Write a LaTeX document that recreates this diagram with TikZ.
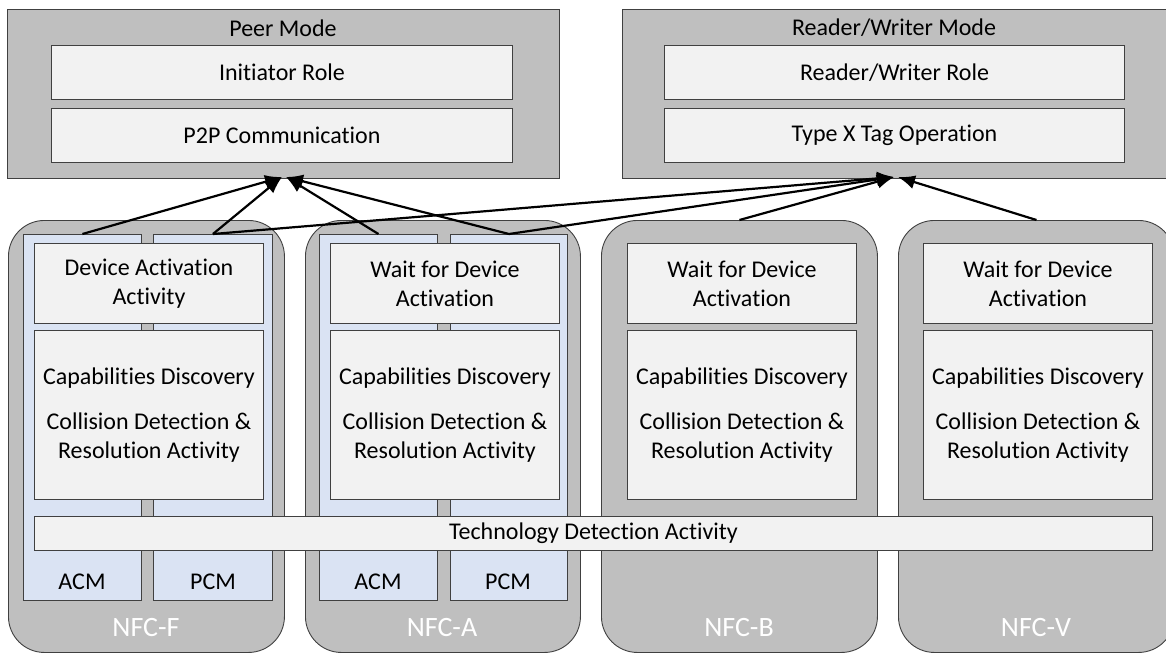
\documentclass[tikz,border=0pt]{standalone}
\usepackage{fontspec}
\setmainfont{Carlito}[Ligatures=NoCommon]
\usetikzlibrary{arrows.meta}
\definecolor{outergray}{HTML}{BFBFBF}
\definecolor{innerfill}{HTML}{F2F2F2}
\definecolor{bluefill}{HTML}{DAE3F3}
\definecolor{edgegray}{HTML}{404040}
\begin{document}
\begin{tikzpicture}[x=1pt,y=-1pt,
  modebox/.style={draw=edgegray, fill=outergray, line width=0.9pt, inner sep=0pt, anchor=north west},
  column/.style={modebox, rounded corners=36pt},
  cmbox/.style={draw=edgegray, fill=bluefill, line width=0.9pt, inner sep=0pt, anchor=north west},
  actbox/.style={draw=edgegray, fill=innerfill, line width=0.9pt, inner sep=0pt, anchor=north west, align=center, font=\fontsize{24}{29}\selectfont},
  lbl/.style={font=\fontsize{24}{29}\selectfont, inner sep=0pt},
  nfclbl/.style={font=\fontsize{28}{30}\selectfont, text=white, inner sep=0pt},
  arr/.style={line width=2.2pt, -{Latex[length=17pt,width=14pt]}}
]
\useasboundingbox (0,0) rectangle (1166,654);
\clip (0,0) rectangle (1166,654);

% Mode boxes
\node[modebox, minimum width=552, minimum height=169] (peer) at (7,9) {};
\node[lbl] (peertitle) at (283,28) {Peer Mode};
\node[actbox, minimum width=461, minimum height=54] (init) at (51,45) {Initiator Role};
\node[actbox, minimum width=461, minimum height=54] (p2p) at (51,108) {P2P Communication};

\node[modebox, minimum width=548, minimum height=169] (rw) at (622,9) {};
\node[lbl] (rwtitle) at (894,28) {Reader/Writer Mode};
\node[actbox, minimum width=460, minimum height=54] (rwrole) at (664,45) {Reader/Writer Role};
\node[actbox, minimum width=460, minimum height=54] (tagop) at (664,108) {Type X Tag Operation};

% Columns
\node[column, minimum width=276, minimum height=432] (nfcF) at (8,220) {};
\node[column, minimum width=275, minimum height=432] (nfcA) at (305,220) {};
\node[column, minimum width=276, minimum height=432] (nfcB) at (601,220) {};
\node[column, minimum width=276, minimum height=432] (nfcV) at (898,220) {};

% ACM / PCM
\node[cmbox, minimum width=118, minimum height=366] (acmF) at (23,234) {};
\node[cmbox, minimum width=119, minimum height=366] (pcmF) at (153,234) {};
\node[cmbox, minimum width=118, minimum height=366] (acmA) at (319,234) {};
\node[cmbox, minimum width=117, minimum height=366] (pcmA) at (450,234) {};

% Activity boxes
\node[actbox, minimum width=229, minimum height=80] (daF) at (34,243) {Device Activation\\Activity};
\node[actbox, minimum width=229, minimum height=80] (daA) at (330,243) {Wait for Device\\Activation};
\node[actbox, minimum width=229, minimum height=80] (daB) at (627,243) {Wait for Device\\Activation};
\node[actbox, minimum width=229, minimum height=80] (daV) at (923,243) {Wait for Device\\Activation};

\node[actbox, minimum width=229, minimum height=169] (capF) at (34,330) {Capabilities Discovery\\[16pt]Collision Detection \&\\Resolution Activity};
\node[actbox, minimum width=229, minimum height=169] (capA) at (330,330) {Capabilities Discovery\\[16pt]Collision Detection \&\\Resolution Activity};
\node[actbox, minimum width=229, minimum height=169] (capB) at (627,330) {Capabilities Discovery\\[16pt]Collision Detection \&\\Resolution Activity};
\node[actbox, minimum width=229, minimum height=169] (capV) at (923,330) {Capabilities Discovery\\[16pt]Collision Detection \&\\Resolution Activity};

% Technology detection bar
\node[actbox, minimum width=1118, minimum height=34] (tech) at (34,516) {Technology Detection Activity};

% Labels
\node[lbl] (acmFl) at (82,582) {ACM};
\node[lbl] (pcmFl) at (213,582) {PCM};
\node[lbl] (acmAl) at (378,582) {ACM};
\node[lbl] (pcmAl) at (508,582) {PCM};
\node[nfclbl] (nfcFl) at (146,627) {NFC-F};
\node[nfclbl] (nfcAl) at (442,627) {NFC-A};
\node[nfclbl] (nfcBl) at (739,627) {NFC-B};
\node[nfclbl] (nfcVl) at (1036,627) {NFC-V};

% Arrow targets
\coordinate (peerL) at (282,177);
\coordinate (peerR) at (286,177);
\coordinate (rwL) at (894,177);
\coordinate (rwR) at (898,177);

\draw[arr] (acmF.north) -- (peerL);
\draw[arr] (pcmF.north) -- (peerL);
\draw[arr] (acmA.north) -- (peerR);
\draw[arr] (pcmA.north) -- (peerR);
\draw[arr] (pcmF.north) -- (rwL);
\draw[arr] (pcmA.north) -- (rwL);
\draw[arr] (nfcB.north) -- (rwL);
\draw[arr] (nfcV.north) -- (rwR);
\end{tikzpicture}
\end{document}
